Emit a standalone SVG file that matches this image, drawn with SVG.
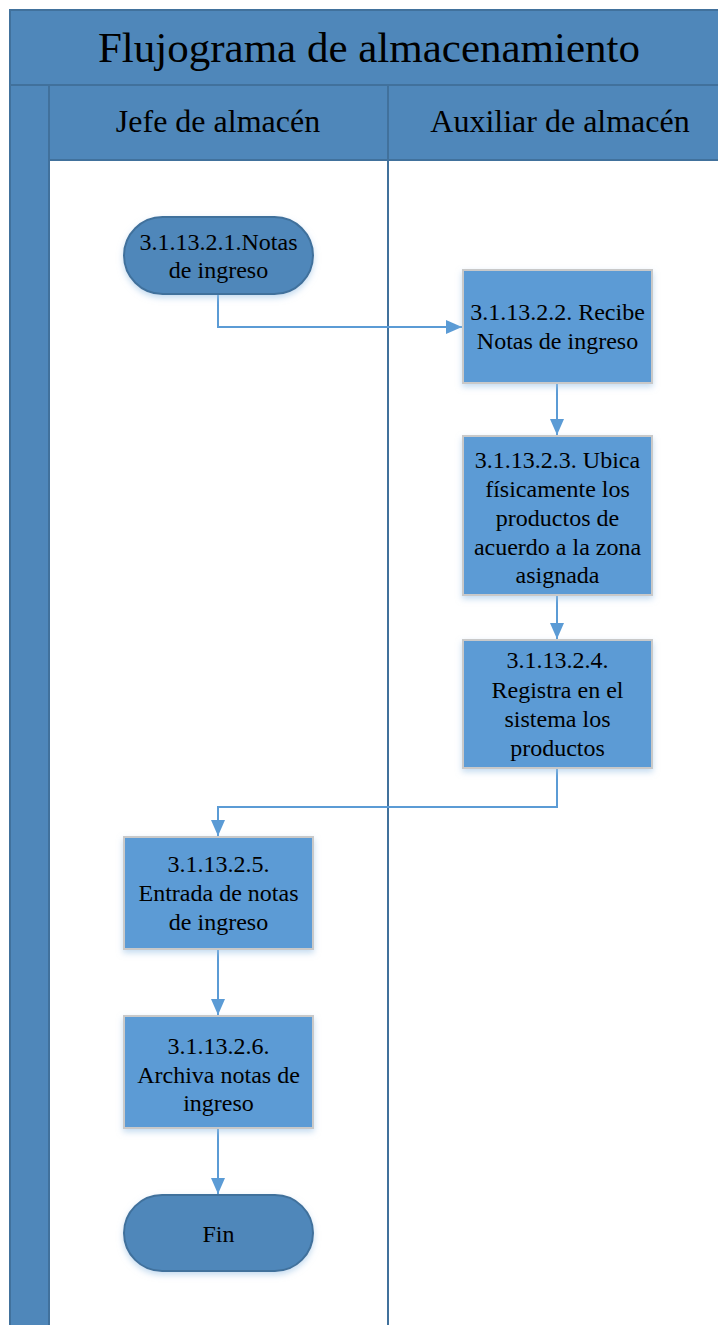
<svg xmlns="http://www.w3.org/2000/svg" width="718" height="1325" viewBox="0 0 718 1325">
  <defs>
    <style>
      .band { fill: #4f87ba; stroke: #41719c; stroke-width: 2; }
      .divider { stroke: #41719c; stroke-width: 2; fill: none; }
      .title { font-family: "Liberation Serif", "Times New Roman", serif; font-size: 43px; fill: #000; text-anchor: middle; }
      .lane { font-family: "Liberation Serif", "Times New Roman", serif; font-size: 32px; fill: #000; text-anchor: middle; }
      .label { font-family: "Liberation Serif", "Times New Roman", serif; font-size: 24px; fill: #000; text-anchor: middle; }
      .proc { fill: #5b9bd5; stroke: #c9c9c9; stroke-width: 2; filter: url(#shadow); }
      .term { fill: #4f87ba; stroke: #41719c; stroke-width: 2; filter: url(#shadow); }
      .flow { stroke: #5b9bd5; stroke-width: 2; fill: none; }
      .arrow { marker-end: url(#arrow); }
    </style>
    <filter id="shadow" x="-20%" y="-20%" width="140%" height="150%">
      <feGaussianBlur in="SourceAlpha" stdDeviation="3"/>
      <feOffset dx="0" dy="3" result="b"/>
      <feFlood flood-color="#9dc3e6" flood-opacity="0.6"/>
      <feComposite in2="b" operator="in"/>
      <feMerge>
        <feMergeNode/>
        <feMergeNode in="SourceGraphic"/>
      </feMerge>
    </filter>
    <marker id="arrow" viewBox="0 0 16 14" refX="16" refY="7" markerWidth="16" markerHeight="14" markerUnits="userSpaceOnUse" orient="auto">
      <path d="M0,0 L16,7 L0,14 z" fill="#5b9bd5"/>
    </marker>
  </defs>

  <!-- pool frame: title band, lane headers, left strip -->
  <g id="pool">
    <rect x="10" y="10" width="720" height="75" class="band"/>
    <text x="369" y="62" class="title">Flujograma de almacenamiento</text>
    <rect x="10" y="85" width="39" height="1250" class="band"/>
    <rect x="49" y="85" width="339" height="75" class="band"/>
    <rect x="388" y="85" width="342" height="75" class="band"/>
    <text x="218" y="132" class="lane">Jefe de almacén</text>
    <text x="560" y="132" class="lane">Auxiliar de almacén</text>
    <line x1="388" y1="160" x2="388" y2="1325" class="divider"/>
  </g>

  <!-- connectors -->
  <g id="connectors">
    <polyline points="218,294 218,327 462,327" class="flow arrow"/>
    <path d="M557,383 V435" class="flow arrow"/>
    <path d="M557,595 V639" class="flow arrow"/>
    <polyline points="557,768 557,807 218,807 218,836" class="flow arrow"/>
    <path d="M218,949 V1015" class="flow arrow"/>
    <path d="M218,1128 V1194" class="flow arrow"/>
  </g>

  <g id="n1">
    <rect x="124" y="217" width="189" height="77" rx="38.5" class="term"/>
    <text x="218.5" y="250" class="label">3.1.13.2.1.Notas</text>
    <text x="218.5" y="278" class="label">de ingreso</text>
  </g>

  <g id="n2">
    <rect x="463" y="270" width="189" height="113" class="proc"/>
    <text x="557.5" y="320" class="label">3.1.13.2.2. Recibe</text>
    <text x="557.5" y="349" class="label">Notas de ingreso</text>
  </g>

  <g id="n3">
    <rect x="463" y="436" width="189" height="159" class="proc"/>
    <text x="557.5" y="468" class="label">3.1.13.2.3. Ubica</text>
    <text x="557.5" y="497" class="label">físicamente los</text>
    <text x="557.5" y="526" class="label">productos de</text>
    <text x="557.5" y="555" class="label">acuerdo a la zona</text>
    <text x="557.5" y="583" class="label">asignada</text>
  </g>

  <g id="n4">
    <rect x="463" y="640" width="189" height="128" class="proc"/>
    <text x="557.5" y="668" class="label">3.1.13.2.4.</text>
    <text x="557.5" y="698" class="label">Registra en el</text>
    <text x="557.5" y="727" class="label">sistema los</text>
    <text x="557.5" y="756" class="label">productos</text>
  </g>

  <g id="n5">
    <rect x="124" y="837" width="189" height="112" class="proc"/>
    <text x="218.5" y="872" class="label">3.1.13.2.5.</text>
    <text x="218.5" y="901" class="label">Entrada de notas</text>
    <text x="218.5" y="930" class="label">de ingreso</text>
  </g>

  <g id="n6">
    <rect x="124" y="1016" width="189" height="112" class="proc"/>
    <text x="218.5" y="1054" class="label">3.1.13.2.6.</text>
    <text x="218.5" y="1083" class="label">Archiva notas de</text>
    <text x="218.5" y="1111" class="label">ingreso</text>
  </g>

  <g id="n7">
    <rect x="124" y="1195" width="189" height="76" rx="38" class="term"/>
    <text x="218.5" y="1242" class="label">Fin</text>
  </g>
</svg>
